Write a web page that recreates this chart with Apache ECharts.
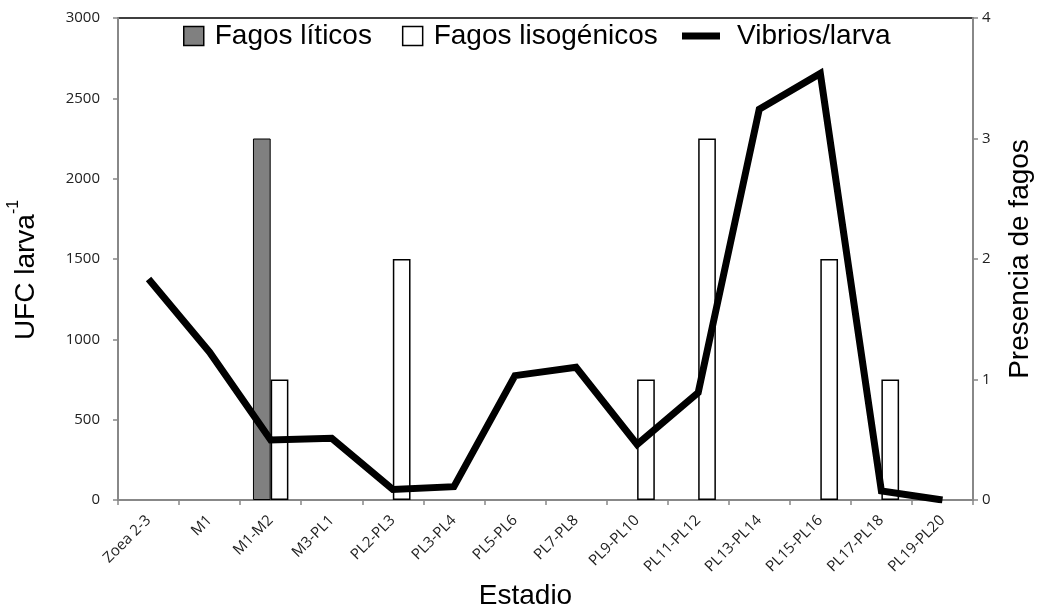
<!DOCTYPE html>
<html>
<head>
<meta charset="utf-8">
<script src="https://cdn.jsdelivr.net/npm/echarts@6/dist/echarts.min.js"></script>
<style>html,body{margin:0;padding:0;background:#fff}#c{width:1039px;height:608px}</style>
</head>
<body>
<div id="c"></div>
<script>
const categories = ["Zoea 2-3","M1","M1-M2","M3-PL1","PL2-PL3","PL3-PL4","PL5-PL6","PL7-PL8","PL9-PL10","PL11-PL12","PL13-PL14","PL15-PL16","PL17-PL18","PL19-PL20"];
const fagosLiticos = [null,null,3,null,null,null,null,null,null,null,null,null,null,null];
const fagosLisogenicos = [null,null,1,null,2,null,null,null,1,3,null,2,1,null];
const vibriosLarva = [1375,920,373,384,66,83,774,826,346,668,2432,2655,56,0];
const leftTicks = {min:0,max:3000,interval:500};
const rightTicks = {min:0,max:4,interval:1};

const chart = echarts.init(document.getElementById('c'));
const sans = '"Liberation Sans", Arial, sans-serif';
const tickFont = {fontFamily:'"Open Sans", sans-serif', fontSize:15, color:'#222'};
chart.setOption({
  animation:false,
  grid:{left:118,right:66,top:18,bottom:108,outerBoundsMode:'none',containLabel:false,
        show:true,borderColor:'#000',borderWidth:1.5,backgroundColor:'transparent'},
  legend:[
    {
      top:17, left:178, itemGap:30, itemWidth:20, itemHeight:19, orient:'horizontal',
      textStyle:{fontFamily:sans, fontSize:28, color:'#000', padding:[0,0,0,6]},
      data:[
        {name:'Fagos líticos', icon:'rect', itemStyle:{color:'#808080',borderColor:'#000',borderWidth:1.5}},
        {name:'Fagos lisogénicos', icon:'rect', itemStyle:{color:'#fff',borderColor:'#000',borderWidth:1.5}}
      ]
    },
    {
      top:17, left:677, itemWidth:38, itemHeight:19,
      textStyle:{fontFamily:sans, fontSize:28, color:'#000', padding:[0,0,0,12]},
      data:[{name:'Vibrios/larva', icon:'path://M0,0L38,0L38,7L0,7Z', itemStyle:{color:'#000'}}]
    }
  ],
  xAxis:{
    type:'category', data:categories, boundaryGap:true,
    axisLine:{lineStyle:{color:'#888',width:2}},
    axisTick:{show:true,alignWithLabel:false,length:5,lineStyle:{color:'#888',width:1.5}},
    axisLabel:Object.assign({rotate:45,interval:0,margin:18},tickFont),
    name:'Estadio', nameLocation:'middle', nameGap:78,
    nameTextStyle:{fontFamily:sans,fontSize:28,color:'#000',padding:[0,40,0,0]}
  },
  yAxis:[
    {
      type:'value', min:leftTicks.min, max:leftTicks.max, interval:leftTicks.interval,
      splitLine:{show:false},
      axisLine:{show:true,lineStyle:{color:'#888',width:2}},
      axisTick:{show:true,length:5,lineStyle:{color:'#888',width:1.5}},
      axisLabel:Object.assign({margin:18,formatter:v=>String(v)},tickFont),
      name:'{a|UFC larva}{b|-1}', nameLocation:'middle', nameGap:78,
      nameTextStyle:{padding:[0,22,0,0],rich:{
        a:{fontFamily:sans,fontSize:28,color:'#000',lineHeight:34,verticalAlign:'bottom'},
        b:{fontFamily:sans,fontSize:16,color:'#000',lineHeight:34,verticalAlign:'top',padding:[0,0,15,0]}
      }}
    },
    {
      type:'value', min:rightTicks.min, max:rightTicks.max, interval:rightTicks.interval,
      position:'right', splitLine:{show:false},
      axisLine:{show:true,lineStyle:{color:'#888',width:2}},
      axisTick:{show:true,length:5,lineStyle:{color:'#888',width:1.5}},
      axisLabel:Object.assign({margin:9,formatter:v=>String(v)},tickFont),
      name:'Presencia de fagos', nameLocation:'middle', nameGap:33, nameRotate:90,
      nameTextStyle:{fontFamily:sans,fontSize:28,color:'#000'}
    }
  ],
  series:[
    {name:'Fagos líticos', type:'bar', yAxisIndex:1, data:fagosLiticos, barWidth:'29%', barGap:'0%',
     itemStyle:{color:'#808080',borderColor:'#000',borderWidth:1}, z:2},
    {name:'Fagos lisogénicos', type:'bar', yAxisIndex:1, data:fagosLisogenicos, barWidth:'29%', barGap:'0%',
     itemStyle:{color:'#fff',borderColor:'#000',borderWidth:1.5}, z:2},
    {name:'Vibrios/larva', type:'line', yAxisIndex:0, data:vibriosLarva, symbol:'none', showSymbol:false,
     lineStyle:{color:'#000',width:7,join:'miter'}, itemStyle:{color:'#000'}, z:5}
  ]
});
</script>
</body>
</html>
